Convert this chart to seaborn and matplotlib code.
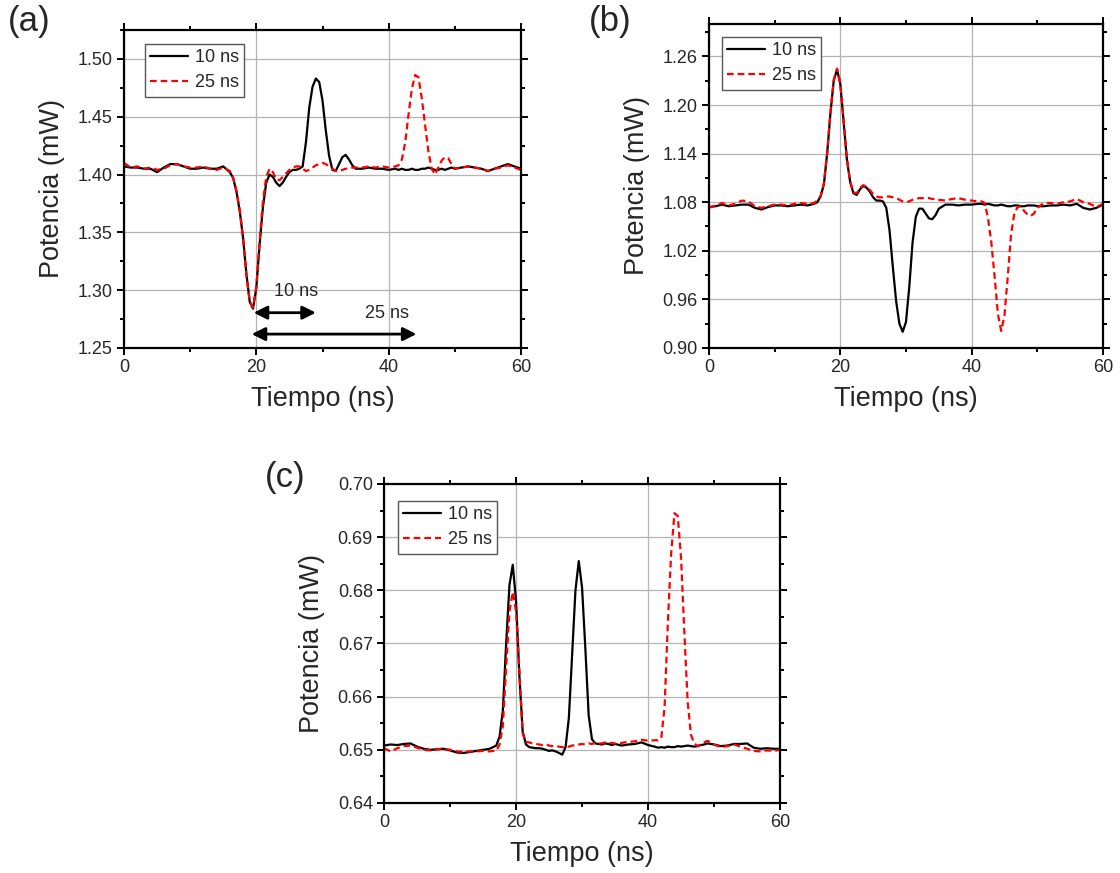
import matplotlib
matplotlib.use("Agg")
import matplotlib.pyplot as plt
from matplotlib.ticker import AutoMinorLocator, MultipleLocator, FormatStrFormatter
import seaborn as sns

# tiempo (ns), muestreo mas fino alrededor de los pulsos
t = [0, 1, 2, 3, 4, 5, 6, 7, 8, 9, 10, 11, 12, 13, 14, 15, 16,
     16.5, 17, 17.5, 18, 18.5, 19, 19.5, 20, 20.5, 21, 21.5, 22, 22.5, 23, 23.5, 24, 24.5, 25, 25.5, 26,
     26.5, 27, 27.5, 28, 28.5, 29, 29.5, 30, 30.5, 31, 31.5, 32, 32.5, 33, 33.5, 34, 34.5, 35,
     36, 37, 38, 39, 40, 41,
     41.5, 42, 42.5, 43, 43.5, 44, 44.5, 45, 45.5, 46, 46.5, 47, 47.5, 48, 48.5, 49, 49.5, 50,
     51, 52, 53, 54, 55, 56, 57, 58, 59, 60]

# (a)
a_10 = [1.407, 1.406, 1.406, 1.405, 1.405, 1.402, 1.406, 1.409, 1.409, 1.407, 1.405, 1.405, 1.406, 1.405, 1.405, 1.407, 1.402,
        1.397, 1.385, 1.368, 1.345, 1.314, 1.290, 1.284, 1.302, 1.340, 1.372, 1.393, 1.400, 1.398, 1.393, 1.390, 1.393, 1.398, 1.402, 1.404, 1.404,
        1.405, 1.407, 1.428, 1.458, 1.476, 1.483, 1.480, 1.464, 1.438, 1.416, 1.404, 1.403, 1.409, 1.415, 1.417, 1.413, 1.408, 1.405,
        1.405, 1.406, 1.405, 1.405, 1.404, 1.405,
        1.404, 1.405, 1.404, 1.404, 1.405, 1.404, 1.404, 1.405, 1.405, 1.406, 1.405, 1.404, 1.404, 1.405, 1.404, 1.405, 1.406, 1.405,
        1.406, 1.407, 1.406, 1.405, 1.403, 1.405, 1.407, 1.409, 1.407, 1.405]
a_25 = [1.410, 1.406, 1.407, 1.405, 1.406, 1.404, 1.405, 1.408, 1.409, 1.407, 1.406, 1.406, 1.407, 1.405, 1.404, 1.406, 1.403,
        1.397, 1.386, 1.369, 1.345, 1.313, 1.290, 1.285, 1.303, 1.343, 1.377, 1.398, 1.405, 1.402, 1.396, 1.395, 1.398, 1.401, 1.404, 1.406, 1.407,
        1.407, 1.405, 1.403, 1.404, 1.406, 1.408, 1.409, 1.410, 1.409, 1.407, 1.405, 1.403, 1.403, 1.404, 1.405, 1.405, 1.406, 1.406,
        1.406, 1.407, 1.406, 1.407, 1.406, 1.407,
        1.408, 1.413, 1.428, 1.452, 1.474, 1.486, 1.484, 1.466, 1.443, 1.420, 1.405, 1.400, 1.406, 1.412, 1.415, 1.414, 1.409, 1.405,
        1.406, 1.407, 1.406, 1.405, 1.403, 1.405, 1.406, 1.408, 1.406, 1.404]

# (b)
b_10 = [1.074, 1.075, 1.077, 1.075, 1.076, 1.077, 1.077, 1.073, 1.071, 1.074, 1.076, 1.076, 1.075, 1.076, 1.077, 1.076, 1.078,
        1.080, 1.087, 1.102, 1.140, 1.190, 1.230, 1.244, 1.226, 1.180, 1.133, 1.105, 1.091, 1.089, 1.096, 1.100, 1.098, 1.093, 1.086, 1.082, 1.082,
        1.081, 1.073, 1.045, 1.000, 0.958, 0.930, 0.920, 0.932, 0.975, 1.030, 1.062, 1.072, 1.072, 1.066, 1.060, 1.059, 1.064, 1.072,
        1.077, 1.077, 1.076, 1.077, 1.077, 1.078,
        1.078, 1.077, 1.078, 1.077, 1.076, 1.076, 1.077, 1.076, 1.075, 1.075, 1.076, 1.076, 1.075, 1.075, 1.076, 1.076, 1.076, 1.075,
        1.075, 1.076, 1.076, 1.077, 1.076, 1.078, 1.073, 1.071, 1.073, 1.077]
b_25 = [1.073, 1.076, 1.079, 1.076, 1.078, 1.082, 1.081, 1.075, 1.073, 1.075, 1.077, 1.077, 1.076, 1.078, 1.079, 1.078, 1.079,
        1.082, 1.088, 1.103, 1.141, 1.191, 1.231, 1.245, 1.227, 1.181, 1.134, 1.106, 1.092, 1.091, 1.098, 1.101, 1.099, 1.095, 1.090, 1.087, 1.086,
        1.086, 1.087, 1.087, 1.086, 1.085, 1.083, 1.081, 1.080, 1.081, 1.083, 1.084, 1.085, 1.085, 1.085, 1.085, 1.084, 1.084, 1.083,
        1.082, 1.084, 1.085, 1.083, 1.082, 1.081,
        1.081, 1.079, 1.060, 1.030, 0.988, 0.942, 0.921, 0.940, 0.988, 1.040, 1.066, 1.074, 1.075, 1.069, 1.065, 1.063, 1.066, 1.073,
        1.079, 1.079, 1.078, 1.080, 1.081, 1.084, 1.080, 1.078, 1.074, 1.078]

# (c)
c_10 = [0.6508, 0.6510, 0.6509, 0.6511, 0.6512, 0.6506, 0.6502, 0.6500, 0.6501, 0.6502, 0.6499, 0.6495, 0.6494, 0.6496, 0.6498, 0.6500, 0.6502,
        0.6505, 0.6508, 0.6525, 0.6574, 0.6700, 0.6810, 0.6848, 0.6780, 0.6640, 0.6535, 0.6510, 0.6505, 0.6504, 0.6503, 0.6503, 0.6502, 0.6500, 0.6498, 0.6499, 0.6497,
        0.6494, 0.6491, 0.6505, 0.6560, 0.6680, 0.6800, 0.6855, 0.6805, 0.6690, 0.6565, 0.6520, 0.6512, 0.6511, 0.6510, 0.6512, 0.6511, 0.6509, 0.6511,
        0.6508, 0.6510, 0.6511, 0.6514, 0.6509, 0.6506,
        0.6504, 0.6505, 0.6504, 0.6506, 0.6505, 0.6505, 0.6507, 0.6506, 0.6507, 0.6508, 0.6507, 0.6506, 0.6507, 0.6509, 0.6510, 0.6512, 0.6511, 0.6510,
        0.6507, 0.6508, 0.6511, 0.6511, 0.6512, 0.6504, 0.6502, 0.6503, 0.6502, 0.6502]
c_25 = [0.6503, 0.6497, 0.6503, 0.6507, 0.6508, 0.6504, 0.6500, 0.6499, 0.6501, 0.6502, 0.6500, 0.6497, 0.6496, 0.6497, 0.6497, 0.6498, 0.6497,
        0.6498, 0.6498, 0.6510, 0.6545, 0.6656, 0.6760, 0.6797, 0.6760, 0.6650, 0.6530, 0.6515, 0.6514, 0.6512, 0.6511, 0.6510, 0.6509, 0.6510, 0.6508, 0.6507, 0.6507,
        0.6506, 0.6505, 0.6505, 0.6506, 0.6508, 0.6509, 0.6510, 0.6511, 0.6510, 0.6512, 0.6511, 0.6513, 0.6512, 0.6512, 0.6514, 0.6512, 0.6513, 0.6512,
        0.6513, 0.6515, 0.6516, 0.6519, 0.6517, 0.6518,
        0.6518, 0.6522, 0.6580, 0.6740, 0.6870, 0.6945, 0.6940, 0.6860, 0.6720, 0.6590, 0.6528, 0.6512, 0.6507, 0.6510, 0.6514, 0.6517, 0.6514, 0.6510,
        0.6505, 0.6507, 0.6510, 0.6506, 0.6502, 0.6498, 0.6497, 0.6499, 0.6498, 0.6500]

sns.set_style("ticks")
plt.rcParams['font.family'] = ['Liberation Sans', 'DejaVu Sans']

fig = plt.figure(figsize=(11.2, 8.73), dpi=100)
ax_a = fig.add_axes([0.1107, 0.6014, 0.3545, 0.3643])
ax_b = fig.add_axes([0.633, 0.6014, 0.3518, 0.3711])
ax_c = fig.add_axes([0.3429, 0.0802, 0.3536, 0.3654])


def panel(ax, y10, y25, ylim, ystep, leg_anchor):
    sns.lineplot(x=t, y=y10, ax=ax, color="black", lw=1.6, label="10 ns")
    sns.lineplot(x=t, y=y25, ax=ax, color="#ff0000", lw=1.6, linestyle=(0, (3, 1.8)), label="25 ns")
    ax.set_xlim(0, 60)
    ax.set_ylim(*ylim)
    ax.xaxis.set_major_locator(MultipleLocator(20))
    ax.yaxis.set_major_locator(MultipleLocator(ystep))
    ax.yaxis.set_major_formatter(FormatStrFormatter('%.2f'))
    ax.xaxis.set_minor_locator(AutoMinorLocator(2))
    ax.yaxis.set_minor_locator(AutoMinorLocator(2))
    ax.grid(True, which="major", color="#b4b4b4", lw=0.9)
    for s in ax.spines.values():
        s.set_linewidth(1.6)
        s.set_color("black")
    ax.tick_params(which="both", direction="out", width=1.4, labelsize=13, pad=3, color="black")
    ax.tick_params(which="major", length=5)
    ax.tick_params(which="minor", length=3)
    ax.tick_params(which="both", top=True, right=True)
    ax.set_xlabel("Tiempo (ns)", fontsize=19.5, labelpad=7)
    ax.set_ylabel("Potencia (mW)", fontsize=19.5, labelpad=9)
    leg = ax.legend(loc="upper left", bbox_to_anchor=leg_anchor, fontsize=13, frameon=True,
                    fancybox=False, edgecolor="#555555", framealpha=1, borderpad=0.3,
                    labelspacing=0.45, handlelength=2.1, handletextpad=0.35, borderaxespad=0)
    leg.get_frame().set_linewidth(1.0)


panel(ax_a, a_10, a_25, (1.25, 1.525), 0.05, (0.053, 0.956))
panel(ax_b, b_10, b_25, (0.90, 1.30), 0.06, (0.033, 0.961))
panel(ax_c, c_10, c_25, (0.64, 0.70), 0.01, (0.035, 0.948))

# flechas de retardo en (a)
ax_a.annotate("", xy=(29.0, 1.2805), xytext=(19.6, 1.2805),
              arrowprops=dict(arrowstyle="<|-|>", color="black", lw=2, mutation_scale=20, shrinkA=0, shrinkB=0))
ax_a.annotate("", xy=(44.2, 1.262), xytext=(19.3, 1.262),
              arrowprops=dict(arrowstyle="<|-|>", color="black", lw=2, mutation_scale=20, shrinkA=0, shrinkB=0))
ax_a.text(26.0, 1.299, "10 ns", fontsize=13, ha="center", va="center")
ax_a.text(39.8, 1.2795, "25 ns", fontsize=13, ha="center", va="center")

fig.text(0.007, 0.975, "(a)", fontsize=25, ha="left", va="center")
fig.text(0.526, 0.975, "(b)", fontsize=25, ha="left", va="center")
fig.text(0.2366, 0.4536, "(c)", fontsize=25, ha="left", va="center")

fig.savefig("out.png", dpi=100)
